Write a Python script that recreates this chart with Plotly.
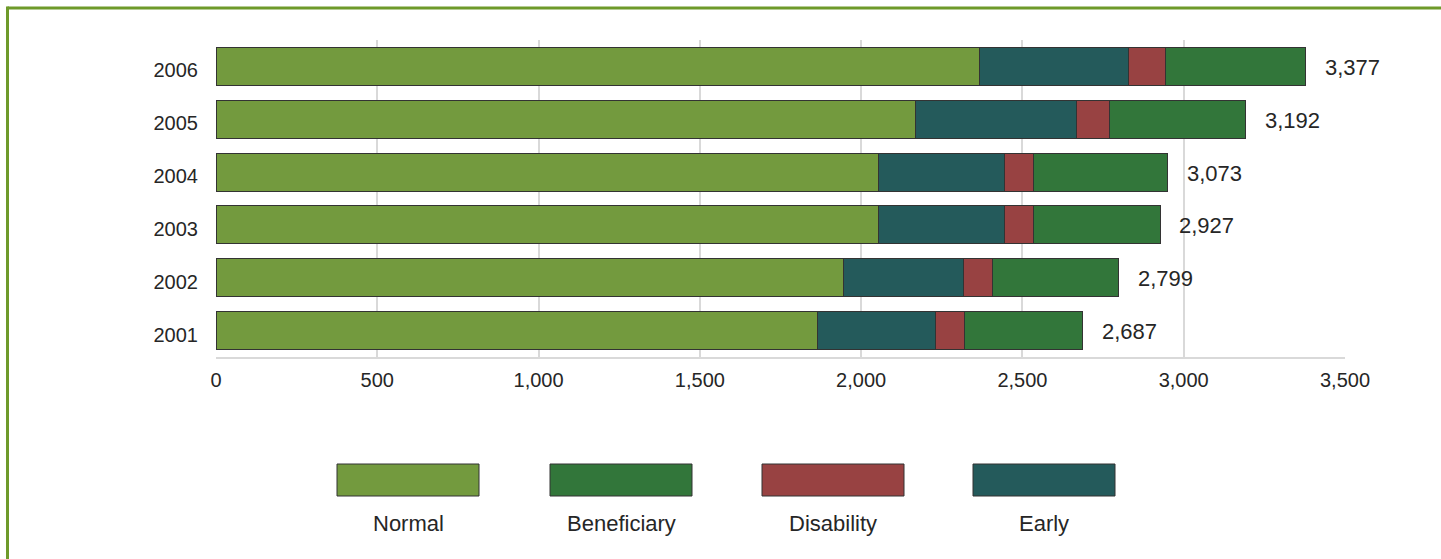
import plotly.graph_objects as go

years = ["2001", "2002", "2003", "2004", "2005", "2006"]
normal = [1865, 1946, 2055, 2055, 2169, 2366]
early = [366, 371, 389, 389, 499, 464]
disability = [88, 90, 91, 91, 101, 112]
beneficiary = [368, 392, 393, 416, 423, 436]
total_labels = ["2,687", "2,799", "2,927", "3,073", "3,192", "3,377"]

x_ticks = [0, 500, 1000, 1500, 2000, 2500, 3000, 3500]
x_tick_labels = ["0", "500", "1,000", "1,500", "2,000", "2,500", "3,000", "3,500"]

series_names = ["Normal", "Early", "Disability", "Beneficiary"]
series_values = [normal, early, disability, beneficiary]
series_colors = {
    "Normal": "#739a3e",
    "Early": "#245a5b",
    "Disability": "#984242",
    "Beneficiary": "#32763a",
}
legend_order = ["Normal", "Beneficiary", "Disability", "Early"]

W, H = 1441, 559
ML, MR, MT, MB = 216, 96, 40, 202
PW = W - ML - MR
PH = H - MT - MB
FONT = "Liberation Sans, Arial, sans-serif"
TXT = "#262626"
BORDER = "#6e9a2a"


def px_x(px):
    return (px - ML) / PW


def px_y(py):
    return (H - MB - py) / PH


fig = go.Figure()
for name, vals in zip(series_names, series_values):
    fig.add_trace(go.Bar(
        y=years, x=vals, orientation="h", name=name,
        marker=dict(color=series_colors[name], line=dict(color="#333333", width=1)),
        showlegend=False, hoverinfo="x+name",
    ))

# total labels placed just past the end of each stacked bar
bar_ends = [sum(v) for v in zip(*series_values)]
for i, (end, lab) in enumerate(zip(bar_ends, total_labels)):
    fig.add_annotation(x=end, y=i, text=lab, showarrow=False, xanchor="left",
                       yanchor="middle", xshift=17, yshift=-1,
                       font=dict(family=FONT, size=22, color=TXT))

shapes = []
# outer green frame (top and left)
shapes.append(dict(type="line", xref="paper", yref="paper",
                   x0=px_x(7.5), x1=px_x(W + 5), y0=px_y(8), y1=px_y(8),
                   line=dict(color=BORDER, width=3)))
shapes.append(dict(type="line", xref="paper", yref="paper",
                   x0=px_x(7.5), x1=px_x(7.5), y0=px_y(6.5), y1=px_y(H + 5),
                   line=dict(color=BORDER, width=3)))

# custom legend
leg_x0 = [337, 550, 762, 973]
leg_w = 142
for name, lx in zip(legend_order, leg_x0):
    shapes.append(dict(type="rect", xref="paper", yref="paper",
                       x0=px_x(lx), x1=px_x(lx + leg_w), y0=px_y(496), y1=px_y(464),
                       fillcolor=series_colors[name], line=dict(color="#333333", width=1)))
    fig.add_annotation(xref="paper", yref="paper", x=px_x(lx + leg_w / 2), y=px_y(523),
                       text=name, showarrow=False, xanchor="center", yanchor="middle",
                       font=dict(family=FONT, size=22, color=TXT))

fig.update_layout(
    width=W, height=H,
    margin=dict(l=ML, r=MR, t=MT, b=MB, autoexpand=False),
    barmode="stack", bargap=0.28,
    plot_bgcolor="white", paper_bgcolor="white",
    shapes=shapes,
    xaxis=dict(range=[0, 3500], tickvals=x_ticks, ticktext=x_tick_labels,
               showgrid=True, gridcolor="#d9d9d9", gridwidth=2, zeroline=False,
               showline=True, linecolor="#d9d9d9", linewidth=2,
               ticks="", ticklabelstandoff=4,
               tickfont=dict(family=FONT, size=20, color=TXT), fixedrange=True),
    yaxis=dict(type="category", categoryorder="array", categoryarray=years,
               range=[-0.5, len(years) - 0.5],
               showgrid=False, zeroline=False, showline=False, ticks="",
               ticklabelstandoff=17, ticklabelshift=4,
               tickfont=dict(family=FONT, size=20, color=TXT), fixedrange=True),
)

fig.write_html("out.html")
